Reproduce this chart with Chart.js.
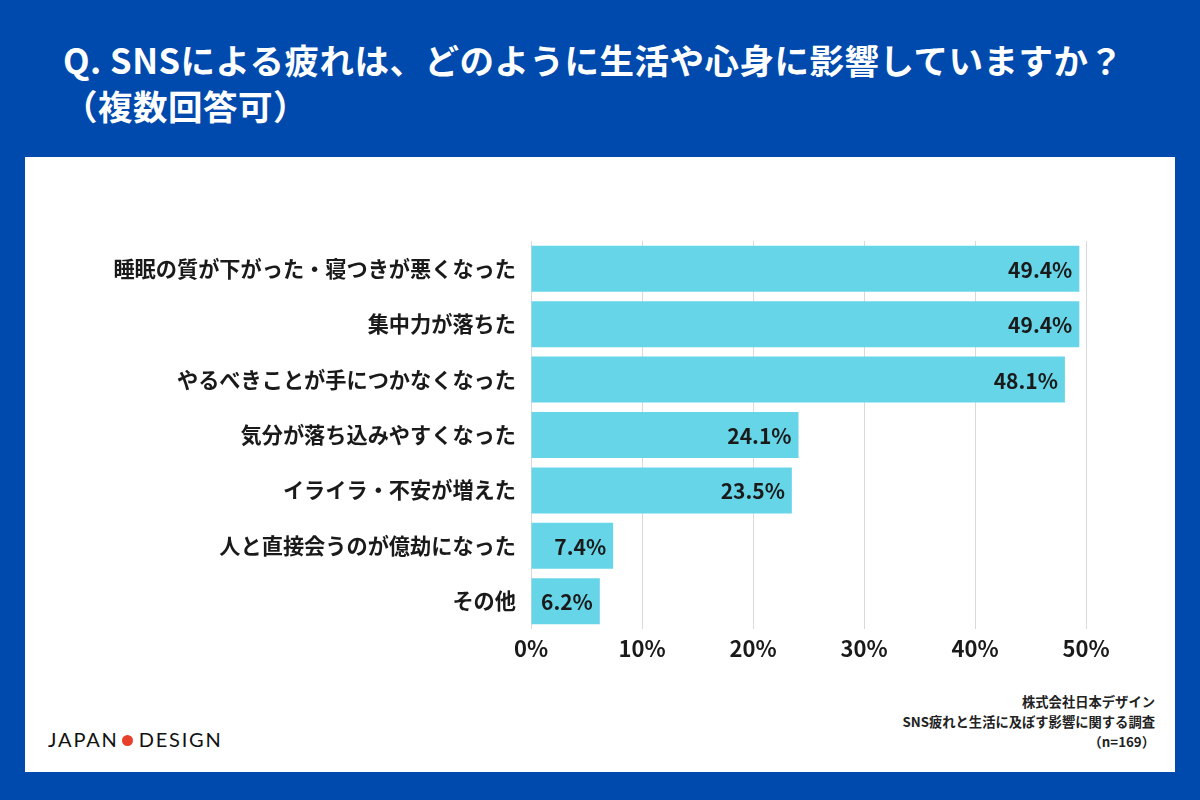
<!DOCTYPE html>
<html lang="ja">
<head>
<meta charset="utf-8">
<script src="https://cdn.jsdelivr.net/npm/chart.js@4/dist/chart.umd.min.js"></script>
<style>
  html, body { margin: 0; padding: 0; }
  body {
    width: 1200px; height: 800px; position: relative; overflow: hidden;
    background: #004AAD;
    font-family: "Noto Sans CJK JP", "Noto Sans", sans-serif;
  }
  .title {
    position: absolute; left: 63px; top: 36px;
    color: #fff; font-weight: 700; font-size: 34.5px; line-height: 46px;
    letter-spacing: 0.5px;
  }
  .panel {
    position: absolute; left: 25px; top: 157px; width: 1150px; height: 615px;
    background: #fff;
  }
  .chart-box { position: absolute; left: 100px; top: 200px; width: 1050px; height: 470px; }
  .logo {
    position: absolute; left: 48px; top: 727px;
    font-family: "Lato", "Open Sans", sans-serif; font-size: 20px; letter-spacing: 1.8px;
    color: #111;
  }
  .logo .dot {
    display: inline-block; width: 11px; height: 11px; border-radius: 50%;
    background: #E8402A; margin: 0 6px 3px 3px; vertical-align: middle;
  }
  .source {
    position: absolute; right: 45px; top: 692px; text-align: right;
    font-size: 13.3px; font-weight: 700; line-height: 20px; color: #222;
  }
</style>
</head>
<body>
<div class="title">Q. SNSによる疲れは、どのように生活や心身に影響していますか？<br>（複数回答可）</div>
<div class="panel"></div>
<div class="chart-box"><canvas id="chart" width="1050" height="470"></canvas></div>
<div class="logo">JAPAN<span class="dot"></span>DESIGN</div>
<div class="source">株式会社日本デザイン<br>SNS疲れと生活に及ぼす影響に関する調査<br>（n=169）</div>

<script>
const categories = [
    '睡眠の質が下がった・寝つきが悪くなった',
    '集中力が落ちた',
    'やるべきことが手につかなくなった',
    '気分が落ち込みやすくなった',
    'イライラ・不安が増えた',
    '人と直接会うのが億劫になった',
    'その他'
];
const percentages = [49.4, 49.4, 48.1, 24.1, 23.5, 7.4, 6.2];
const xTicks = [0, 10, 20, 30, 40, 50];

// 棒の右端に値を描くプラグイン
const valueLabels = {
    id: 'valueLabels',
    afterDatasetsDraw(chart) {
        const ctx = chart.ctx;
        const meta = chart.getDatasetMeta(0);
        ctx.save();
        ctx.font = 'bold 21px "Noto Sans CJK JP", sans-serif';
        ctx.fillStyle = '#1a1a1a';
        ctx.textAlign = 'right';
        ctx.textBaseline = 'middle';
        meta.data.forEach((bar, i) => {
            ctx.fillText(percentages[i].toFixed(1) + '%', bar.x - 7, bar.y + 1);
        });
        ctx.restore();
    }
};

const ctx = document.getElementById('chart').getContext('2d');
new Chart(ctx, {
    type: 'bar',
    data: {
        labels: categories,
        datasets: [{
            data: percentages,
            backgroundColor: '#66D5E8',
            borderWidth: 0,
            categoryPercentage: 1,
            barPercentage: 0.83
        }]
    },
    options: {
        indexAxis: 'y',
        responsive: false,
        animation: false,
        layout: { padding: { top: 41, right: 64, left: 0, bottom: 0 } },
        plugins: {
            legend: { display: false },
            tooltip: { enabled: false }
        },
        scales: {
            x: {
                min: 0,
                max: 50,
                afterBuildTicks: scale => { scale.ticks = xTicks.map(v => ({ value: v })); },
                afterFit: scale => { scale.height = 41; },
                grid: { color: '#d9d9d9', lineWidth: 1, drawTicks: false },
                border: { display: false },
                ticks: {
                    padding: 6,
                    color: '#1a1a1a',
                    font: { family: '"Noto Sans CJK JP", sans-serif', size: 22, weight: 'bold' },
                    callback: v => v + '%'
                }
            },
            y: {
                afterFit: scale => { scale.width = 431; },
                grid: { display: false, drawTicks: false },
                border: { display: false },
                ticks: {
                    padding: 15,
                    color: '#1a1a1a',
                    font: { family: '"Noto Sans CJK JP", sans-serif', size: 21.2, weight: 'bold' }
                }
            }
        }
    },
    plugins: [valueLabels]
});
</script>
</body>
</html>
